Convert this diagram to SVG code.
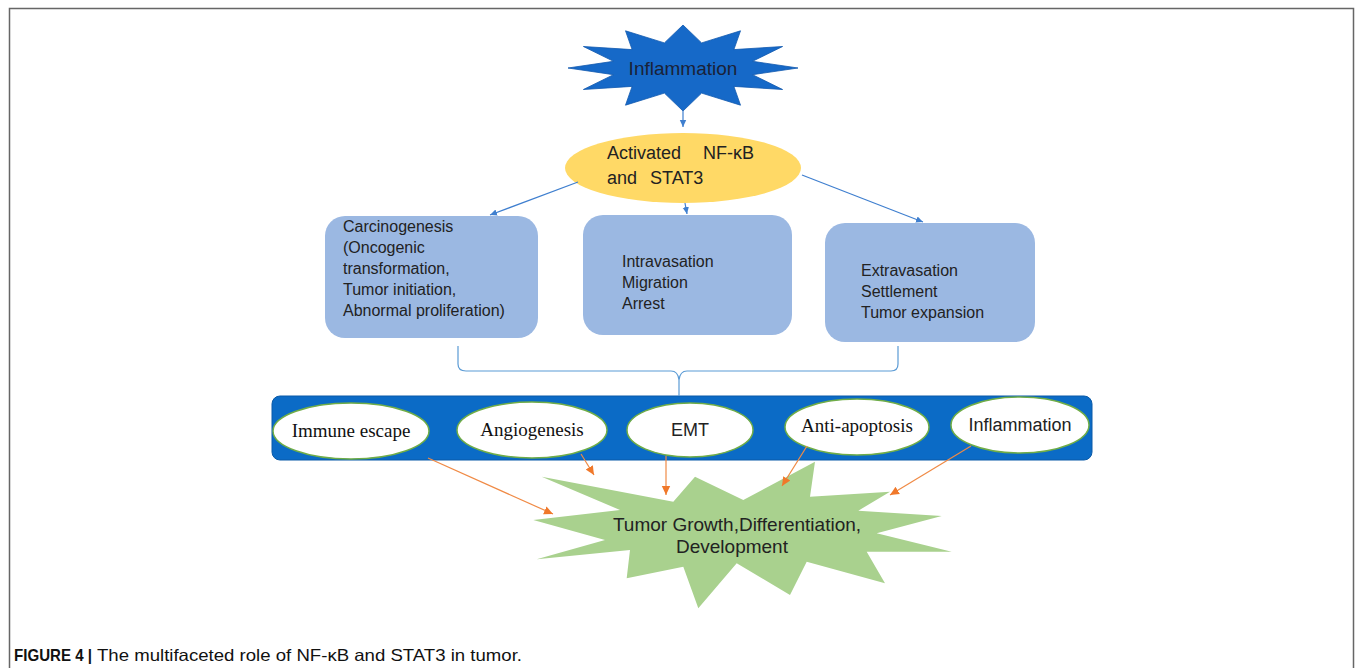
<svg xmlns="http://www.w3.org/2000/svg" width="1355" height="668" viewBox="0 0 1355 668">
<defs>
<style>
.sans{font-family:"Microsoft YaHei","Liberation Sans",Arial,sans-serif;fill:#222;}
.serif{font-family:"Liberation Serif","Times New Roman",serif;fill:#111;}
.box{fill:#9BB8E2;}
.oval{fill:#fff;stroke:#70AD47;stroke-width:1.5;}
.blue{stroke:#3F7FCF;stroke-width:1.2;fill:none;}
.orange{stroke:#F08A45;stroke-width:1.2;fill:none;}
.cap{font-family:"Liberation Sans",Arial,sans-serif;font-size:16.5px;fill:#111;}
</style>
<marker id="ab" markerWidth="8" markerHeight="8" refX="7" refY="4" orient="auto" markerUnits="userSpaceOnUse">
<path d="M0,0.8 L7,4 L0,7.2 Z" fill="#3F7FCF"/>
</marker>
<marker id="ao" markerWidth="10" markerHeight="10" refX="9" refY="5" orient="auto" markerUnits="userSpaceOnUse">
<path d="M0,0.8 L9,5 L0,9.2 Z" fill="#F0782A"/>
</marker>
</defs>
<rect width="1355" height="668" fill="#fff"/>
<path d="M9.5,668 V8.5 H1353.5 V668" fill="none" stroke="#666" stroke-width="1.5"/>

<g id="inflammation-top">
<polygon points="798,68 752.5,74.7 782.6,89.5 733.9,86.4 740.5,105.2 701.6,93.1 683,111 664.4,93.1 625.5,105.2 632.1,86.4 583.4,89.5 613.5,74.7 568,68 613.5,61.3 583.4,46.5 632.1,49.6 625.5,30.8 664.4,42.9 683,25 701.6,42.9 740.5,30.8 733.9,49.6 782.6,46.5 752.5,61.3" fill="#1669C8" stroke="#1259AE" stroke-width="0.8"/>
<text class="sans" x="683" y="75" font-size="19" text-anchor="middle" style="fill:#1a2238">Inflammation</text>
</g>

<g id="activated">
<ellipse cx="683" cy="168" rx="118" ry="35" fill="#FFD966"/>
<text class="sans" font-size="18"><tspan x="607" y="159">Activated</tspan><tspan x="703" y="159">NF-κB</tspan><tspan x="607" y="184">and</tspan><tspan x="650" y="184">STAT3</tspan></text>
</g>

<g id="box-carcinogenesis">
<rect class="box" x="325" y="216" width="213" height="122" rx="20"/>
<text class="sans" font-size="16"><tspan x="343" y="232">Carcinogenesis</tspan><tspan x="343" y="253">(Oncogenic</tspan><tspan x="343" y="274">transformation,</tspan><tspan x="343" y="295">Tumor initiation,</tspan><tspan x="343" y="316">Abnormal proliferation)</tspan></text>
</g>

<g id="box-intravasation">
<rect class="box" x="583" y="215" width="209" height="120" rx="20"/>
<text class="sans" font-size="16"><tspan x="622" y="267">Intravasation</tspan><tspan x="622" y="288">Migration</tspan><tspan x="622" y="309">Arrest</tspan></text>
</g>

<g id="box-extravasation">
<rect class="box" x="825" y="223" width="210" height="119" rx="20"/>
<text class="sans" font-size="16"><tspan x="861" y="276">Extravasation</tspan><tspan x="861" y="297">Settlement</tspan><tspan x="861" y="318">Tumor expansion</tspan></text>
</g>

<g id="bar">
<rect x="272" y="396" width="820" height="64" rx="8" fill="#0B6BC6" stroke="#0A5AA8" stroke-width="1"/>
</g>

<g id="immune-escape">
<ellipse class="oval" cx="351" cy="431" rx="78" ry="28"/>
<text class="serif" x="351" y="437" font-size="19" text-anchor="middle">Immune escape</text>
</g>
<g id="angiogenesis">
<ellipse class="oval" cx="532" cy="430" rx="75" ry="28"/>
<text class="serif" x="532" y="436" font-size="19" text-anchor="middle">Angiogenesis</text>
</g>
<g id="emt">
<ellipse class="oval" cx="690" cy="430" rx="63" ry="27"/>
<text class="sans" x="690" y="436" font-size="18" text-anchor="middle">EMT</text>
</g>
<g id="anti-apoptosis">
<ellipse class="oval" cx="857" cy="427" rx="72" ry="28"/>
<text class="serif" x="857" y="432" font-size="19" text-anchor="middle">Anti-apoptosis</text>
</g>
<g id="inflammation-oval">
<ellipse class="oval" cx="1020" cy="425" rx="69" ry="28"/>
<text class="sans" x="1020" y="431" font-size="18" text-anchor="middle">Inflammation</text>
</g>

<g id="tumor-growth">
<polygon points="541.7,476.7 673.3,501.7 695,476.7 743.3,500 815,461.7 810,496.7 890,491.7 858.3,510.7 941.7,516 876.7,533.3 951.7,551.7 866.7,551.7 885,583.3 806.7,561.7 790,595 736.7,563.3 698.3,608.3 683.3,566.7 626.7,578.3 630,550 536.7,559.3 605,540 533.3,520 620,510" fill="#A9D18E"/>
<text class="sans" font-size="19" text-anchor="middle"><tspan x="737" y="531">Tumor Growth,Differentiation,</tspan><tspan x="732" y="553">Development</tspan></text>
</g>

<g id="connectors">
<line class="blue" x1="683" y1="111" x2="683" y2="127" marker-end="url(#ab)"/>
<line class="blue" x1="578" y1="182" x2="490" y2="215" marker-end="url(#ab)"/>
<line class="blue" x1="685" y1="203" x2="687" y2="214" marker-end="url(#ab)"/>
<line class="blue" x1="802" y1="175" x2="923" y2="222" marker-end="url(#ab)"/>
<path d="M458,346 V364 Q458,371 466,371 H671 Q678,371 679,380 V396 M679,380 Q680,371 687,371 H891 Q898,371 898,364 V346" fill="none" stroke="#5B9BD5" stroke-width="1.2"/>
<line class="orange" x1="428" y1="458" x2="553" y2="514" marker-end="url(#ao)"/>
<line class="orange" x1="581" y1="454" x2="594" y2="475" marker-end="url(#ao)"/>
<line class="orange" x1="666" y1="456" x2="666" y2="495" marker-end="url(#ao)"/>
<line class="orange" x1="807" y1="446" x2="782" y2="486" marker-end="url(#ao)"/>
<line class="orange" x1="971" y1="446" x2="890" y2="495" marker-end="url(#ao)"/>
</g>

<g id="caption">
<text class="cap" x="14" y="661" font-weight="bold" textLength="78" lengthAdjust="spacingAndGlyphs">FIGURE 4 |</text>
<text class="cap" x="97" y="661" textLength="425" lengthAdjust="spacingAndGlyphs">The multifaceted role of NF-κB and STAT3 in tumor.</text>
</g>
</svg>
